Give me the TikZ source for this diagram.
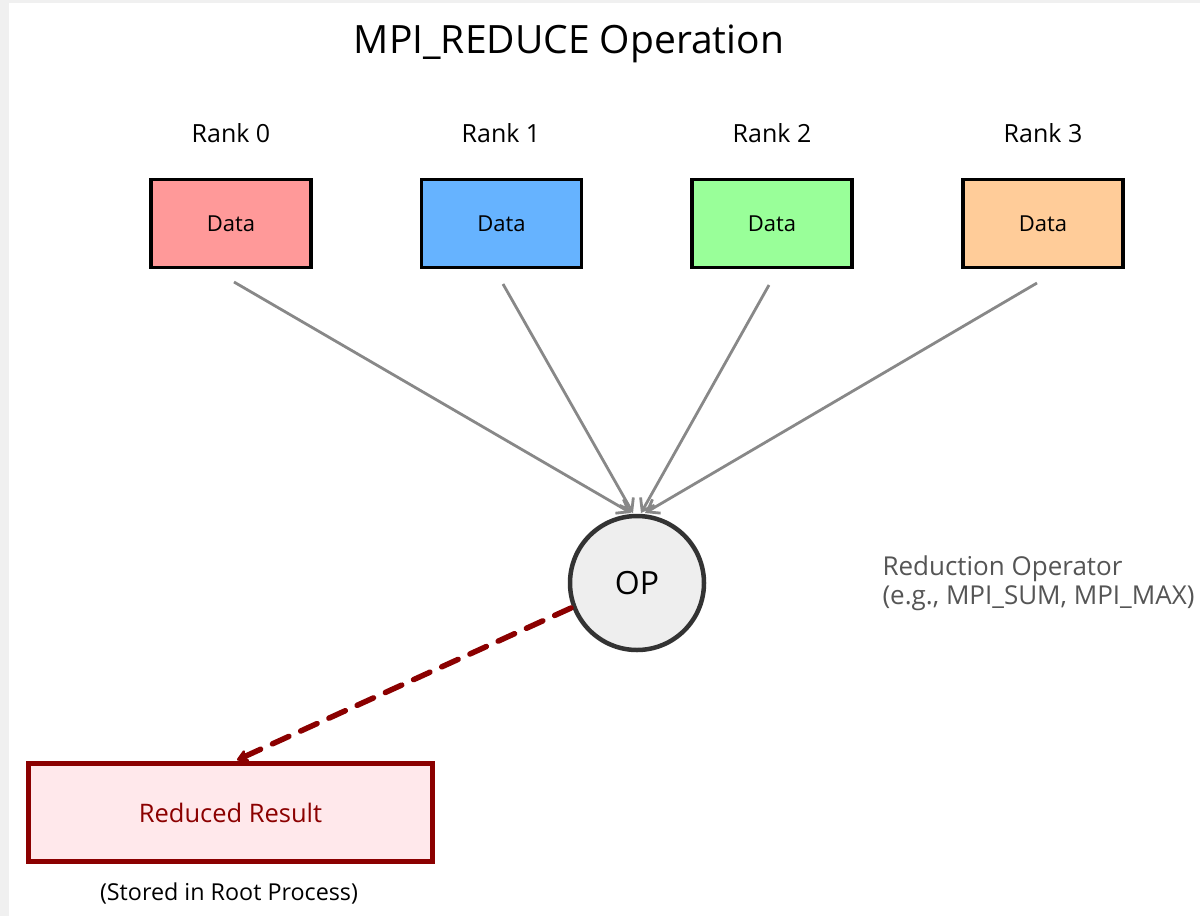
\documentclass[tikz,border=0pt]{standalone}
\usepackage{fontspec}
\setmainfont{Open Sans}[Ligatures=NoCommon]
\usetikzlibrary{arrows.meta}
\definecolor{rzero}{HTML}{FF9999}
\definecolor{rone}{HTML}{66B3FF}
\definecolor{rtwo}{HTML}{99FF99}
\definecolor{rthree}{HTML}{FFCC99}
\definecolor{flowgray}{HTML}{888888}
\definecolor{opfill}{HTML}{EEEEEE}
\definecolor{opedge}{HTML}{333333}
\definecolor{notegray}{HTML}{555555}
\definecolor{resred}{HTML}{8B0000}
\definecolor{resfill}{HTML}{FFE8EB}
\definecolor{framegray}{HTML}{F0F0F0}
\tikzset{
  databox/.style={draw=black, line width=3.5pt, minimum width=160pt, minimum height=88pt,
    inner sep=0pt, font=\fontsize{22}{26}\selectfont},
  ranklabel/.style={anchor=base, font=\fontsize{25}{29}\selectfont},
  flow/.style={draw=flowgray, line width=2.8pt, -{Straight Barb[length=11pt,width=16pt,line width=2.8pt]}},
  opnode/.style={circle, draw=opedge, fill=opfill, line width=4.5pt, minimum size=134pt,
    inner sep=0pt, font=\fontsize{32}{36}\selectfont},
  result/.style={draw=resred, fill=resfill, line width=4.5pt, minimum width=404pt,
    minimum height=98pt, inner sep=0pt, text=resred, font=\fontsize{25.5}{30}\selectfont},
  resflow/.style={draw=resred, line width=5.5pt, line cap=round, dash pattern=on 18pt off 13pt,
    -{Stealth[length=14pt,width=16pt,round]}},
}
\begin{document}
\begin{tikzpicture}[x=1pt, y=-1pt]
  % canvas with thin grey frame on the left and top
  \fill[framegray] (0,0) rectangle (1200,916);
  \fill[white] (9,3) rectangle (1200,916);
  \useasboundingbox (0,0) rectangle (1200,916);

  \node[anchor=base, font=\fontsize{39}{46}\selectfont] (title) at (569,53) {MPI\_REDUCE Operation};

  % ranks and their data
  \node[ranklabel] (l0) at (231,142) {Rank 0};
  \node[ranklabel] (l1) at (501,142) {Rank 1};
  \node[ranklabel] (l2) at (772,142) {Rank 2};
  \node[ranklabel] (l3) at (1043,142) {Rank 3};

  \node[databox, fill=rzero]  (d0) at (231,223.5) {Data};
  \node[databox, fill=rone]   (d1) at (501.5,223.5) {Data};
  \node[databox, fill=rtwo]   (d2) at (772,223.5) {Data};
  \node[databox, fill=rthree] (d3) at (1043,223.5) {Data};

  % reduction operator
  \node[opnode] (op) at (637,583) {OP};
  \node[anchor=base west, align=left, text=notegray, font=\fontsize{26}{29}\selectfont]
    (note) at (879,604) {Reduction Operator\\(e.g., MPI\_SUM, MPI\_MAX)};

  % contributions flowing into the operator
  \coordinate (s0) at (234,282);  \coordinate (e0) at (631,513);
  \coordinate (s1) at (503,284);  \coordinate (e1) at (633,513);
  \coordinate (s2) at (769,285);  \coordinate (e2) at (641,513);
  \coordinate (s3) at (1037,283); \coordinate (e3) at (645,513);
  \draw[flow] (s0) -- (e0);
  \draw[flow] (s1) -- (e1);
  \draw[flow] (s2) -- (e2);
  \draw[flow] (s3) -- (e3);

  % result at the root
  \node[result] (res) at (230.5,812.5) {Reduced Result};
  \node[anchor=base, font=\fontsize{23.3}{27}\selectfont] (root) at (229,900) {(Stored in Root Process)};

  \coordinate (rs) at (571,608);
  \coordinate (rt) at (237,760);
  \draw[resflow] (rs) -- (rt);
\end{tikzpicture}
\end{document}
